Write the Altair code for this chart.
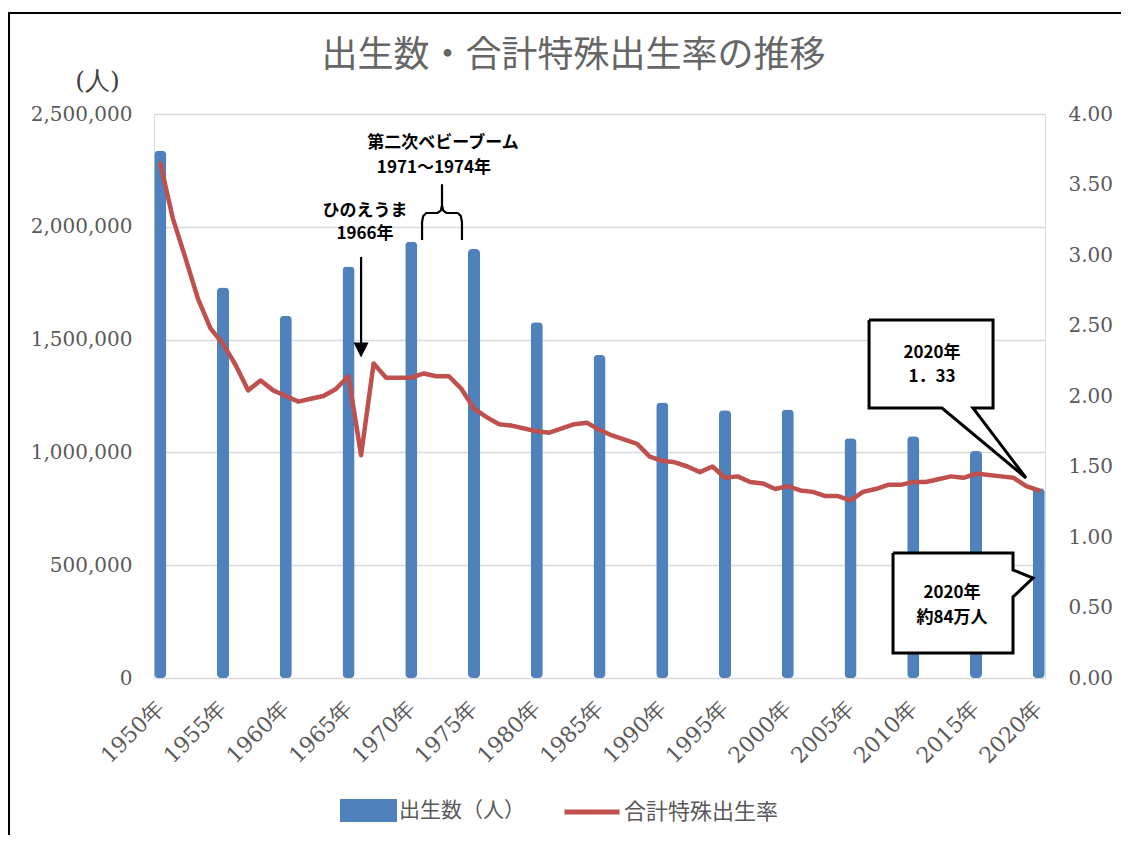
import altair as alt
import pandas as pd

# ---------------- data ----------------
years = list(range(1950, 2021))
tfr = [3.65, 3.26, 2.98, 2.69, 2.48, 2.37, 2.22, 2.04, 2.11, 2.04,
       2.00, 1.96, 1.98, 2.00, 2.05, 2.14, 1.58, 2.23, 2.13, 2.13,
       2.13, 2.16, 2.14, 2.14, 2.05, 1.91, 1.85, 1.80, 1.79, 1.77,
       1.75, 1.74, 1.77, 1.80, 1.81, 1.76, 1.72, 1.69, 1.66, 1.57,
       1.54, 1.53, 1.50, 1.46, 1.50, 1.42, 1.43, 1.39, 1.38, 1.34,
       1.36, 1.33, 1.32, 1.29, 1.29, 1.26, 1.32, 1.34, 1.37, 1.37,
       1.39, 1.39, 1.41, 1.43, 1.42, 1.45, 1.44, 1.43, 1.42, 1.36,
       1.33]
bar_years = [1950, 1955, 1960, 1965, 1970, 1975, 1980, 1985, 1990, 1995,
             2000, 2005, 2010, 2015, 2020]
births = [2337507, 1730692, 1606041, 1823697, 1934239, 1901440, 1576889,
          1431577, 1221585, 1187064, 1190547, 1062530, 1071305, 1005721,
          840835]
tick_years = bar_years
left_ticks = [0, 500000, 1000000, 1500000, 2000000, 2500000]
right_ticks = [0, 0.5, 1.0, 1.5, 2.0, 2.5, 3.0, 3.5, 4.0]

series_births = "出生数（人）"
series_tfr = "合計特殊出生率"
title_text = "出生数・合計特殊出生率の推移"
unit_text = "(人)"

# annotation texts (x in years, y in births units)
note_text = ["第二次ベビーブーム", "1971～1974年", "ひのえうま", "1966年",
             "2020年", "1．33", "2020年", "約84万人"]
note_x = [1972.53, 1971.81, 1966.31, 1966.31, 2011.5, 2011.5, 2013.09, 2013.09]
note_y = [2371400, 2260600, 2072000, 1966000, 1440600, 1334200, 376800, 266000]

# brace over 1971-1974
brace_x = [1970.86, 1970.86, 1970.95, 1971.2, 1972.1, 1972.35, 1972.45, 1972.45,
           1972.45, 1972.55, 1972.8, 1973.7, 1973.95, 1974.04, 1974.04]
brace_y = [1941500, 2021300, 2048000, 2061200, 2061200, 2072000, 2095000, 2185300,
           2095000, 2072000, 2061200, 2061200, 2048000, 2021300, 1941500]

# arrow for 1966
arrow_x = [1966.0]
arrow_y_top = [1866100]
arrow_y_end = [1480000]
arrow_head_y = [1453900]

# callout outlines
call1_x = [2006.48, 2016.36, 2016.36, 2014.76, 2018.99, 2012.29, 2006.48, 2006.48]
call1_y = [1586900, 1586900, 1196800, 1196800, 886500, 1196800, 1196800, 1586900]
call2_x = [2008.39, 2017.95, 2017.95, 2019.54, 2017.95, 2017.95, 2008.39, 2008.39]
call2_y = [554100, 554100, 478700, 443300, 359000, 110800, 110800, 554100]

# ---------------- styles ----------------
BLUE = "#4F81BD"
RED = "#C0504D"
GRAY = "#595959"
SERIF = "DejaVu Serif"
JP = "Noto Sans CJK JP"
W, H = 891, 564

bar_df = pd.DataFrame({"year": bar_years, "births": births, "series": series_births})
line_df = pd.DataFrame({"year": years, "tfr": tfr, "series": series_tfr})

x_band = alt.Scale(domain=years, paddingInner=0.04, paddingOuter=0.02)
y_left = alt.Scale(domain=[0, 2500000], nice=False, zero=True)
y_right = alt.Scale(domain=[0, 4], nice=False, zero=True)
x_ann = alt.Scale(domain=[1949.5, 2020.5], nice=False, zero=False)

legend_bar = alt.Legend(
    title=None, orient="none", direction="horizontal",
    legendX=186, legendY=668,
    symbolType="M-1,-0.4H1V0.4H-1Z", symbolSize=3249, symbolStrokeWidth=0,
    symbolOpacity=1,
    labelFont=JP, labelFontSize=21, labelColor=GRAY, labelOffset=2,
)
legend_line = alt.Legend(
    title=None, orient="none", direction="horizontal",
    legendX=408, legendY=668,
    symbolType="stroke", symbolSize=3025, symbolStrokeWidth=5,
    symbolOpacity=1,
    labelFont=JP, labelFontSize=22, labelColor=GRAY, labelOffset=2,
)

bars = alt.Chart(bar_df).mark_bar(cornerRadius=4).encode(
    x=alt.X("year:O", scale=x_band, title=None,
            axis=alt.Axis(values=tick_years, labelExpr="datum.value + '年'",
                          labelAngle=-45, labelAlign="right", labelBaseline="middle",
                          labelFont=SERIF, labelFontSize=22, labelColor=GRAY,
                          labelPadding=26, ticks=False, tickSize=0, domain=False,
                          grid=False)),
    y=alt.Y("births:Q", scale=y_left,
            axis=alt.Axis(values=left_ticks,
                          labelExpr="format(datum.value, ',d')",
                          labelFont=SERIF,
                          labelFontSize=20, labelColor=GRAY, labelPadding=22,
                          ticks=False, tickSize=0, domain=False,
                          grid=True, gridColor="#D9D9D9", gridWidth=1.3,
                          title=unit_text, titleAngle=0, titleX=-57, titleY=-34,
                          titleAlign="center", titleBaseline="middle",
                          titleFont=SERIF, titleFontSize=25,
                          titleFontWeight="normal", titleColor="#404040")),
    color=alt.Color("series:N", scale=alt.Scale(domain=[series_births], range=[BLUE]),
                    legend=legend_bar),
)

line = alt.Chart(line_df).mark_line(strokeWidth=4.5, strokeJoin="round",
                                    strokeCap="round").encode(
    x=alt.X("year:O", scale=x_band, axis=None),
    y=alt.Y("tfr:Q", scale=y_right,
            axis=alt.Axis(orient="right", values=right_ticks, format=".2f",
                          labelFont=SERIF, labelFontSize=20, labelColor=GRAY,
                          labelPadding=23, ticks=False, tickSize=0,
                          domain=False, grid=False, title=None)),
    stroke=alt.Stroke("series:N", scale=alt.Scale(domain=[series_tfr], range=[RED]),
                      legend=legend_line),
)

brace_df = pd.DataFrame({"x": brace_x, "y": brace_y, "o": list(range(len(brace_x)))})
brace = alt.Chart(brace_df).mark_line(color="black", strokeWidth=2.2,
                                      strokeJoin="round").encode(
    x=alt.X("x:Q", scale=x_ann, axis=None),
    y=alt.Y("y:Q", scale=y_left, axis=None),
    order="o:Q",
)

arrow_df = pd.DataFrame({"x": arrow_x, "y": arrow_y_top, "y2": arrow_y_end,
                         "h": arrow_head_y})
arrow = alt.Chart(arrow_df).mark_rule(color="black", strokeWidth=2.2).encode(
    x=alt.X("x:Q", scale=x_ann, axis=None),
    y=alt.Y("y:Q", scale=y_left, axis=None),
    y2="y2:Q",
)
arrow_head = alt.Chart(arrow_df).mark_point(
    shape="M-1,-1L1,-1L0,1Z", filled=True, size=225, color="black", opacity=1
).encode(
    x=alt.X("x:Q", scale=x_ann, axis=None),
    y=alt.Y("h:Q", scale=y_left, axis=None),
)

call_df = pd.DataFrame({
    "x": call1_x + call2_x,
    "y": call1_y + call2_y,
    "box": ["a"] * len(call1_x) + ["b"] * len(call2_x),
    "o": list(range(len(call1_x))) + list(range(len(call2_x))),
})
callouts = alt.Chart(call_df).mark_line(
    stroke="black", strokeWidth=3, fill="white", strokeJoin="miter"
).encode(
    x=alt.X("x:Q", scale=x_ann, axis=None),
    y=alt.Y("y:Q", scale=y_left, axis=None),
    detail="box:N",
    order="o:Q",
)

note_df = pd.DataFrame({"x": note_x, "y": note_y, "t": note_text})
notes = alt.Chart(note_df).mark_text(
    font=JP, fontSize=17, fontWeight="bold", color="black",
    align="center", baseline="middle"
).encode(
    x=alt.X("x:Q", scale=x_ann, axis=None),
    y=alt.Y("y:Q", scale=y_left, axis=None),
    text="t:N",
)

frame = alt.Chart(pd.DataFrame({"a": [0]})).mark_rect(
    filled=False, stroke="black", strokeWidth=2
).encode(
    x=alt.value(-145), x2=alt.value(1300),
    y=alt.value(-101), y2=alt.value(1100),
)

chart = alt.layer(
    bars, line, brace, arrow, arrow_head, callouts, notes, frame
).resolve_scale(
    x="independent", y="independent"
).properties(
    width=W, height=H,
    title=alt.TitleParams(title_text, font=JP, fontSize=36, fontWeight="normal",
                          color="#666666", anchor="middle", dx=-26, offset=-63),
    padding={"left": 146, "top": 106, "right": 76, "bottom": 157},
    autosize=alt.AutoSizeParams(type="none"),
).configure_view(stroke=None).configure(background="white")

chart.save("out.html", embed_options={"renderer": "svg", "actions": False})
